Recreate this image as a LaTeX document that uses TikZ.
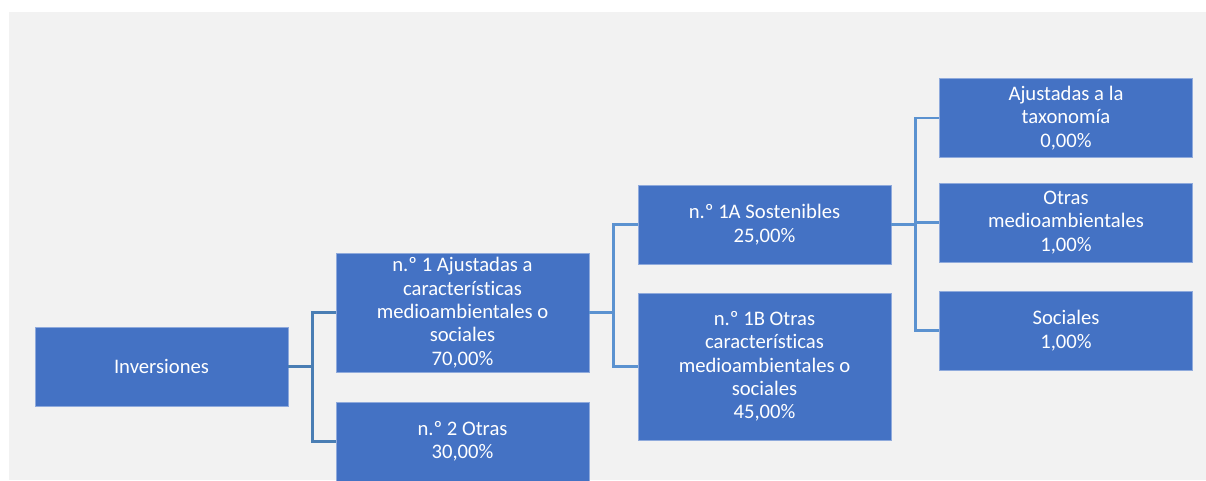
\documentclass[tikz,border=0pt]{standalone}
\usepackage{fontspec}
\setmainfont[Ligatures=NoCommon]{Carlito}
\usepackage{xcolor}
\usepackage{tikz}
\usetikzlibrary{positioning}

\definecolor{boxblue}{RGB}{68,114,196}
\definecolor{boxline}{RGB}{143,170,220}
\definecolor{linkdark}{RGB}{74,126,180}
\definecolor{linklight}{RGB}{91,146,208}
\definecolor{pagegrey}{RGB}{242,242,242}

\begin{document}
\begin{tikzpicture}[
          x=0.75pt, y=-0.75pt,
          box/.style={rectangle, draw=boxline, line width=0.6pt, fill=boxblue,
            text=white, align=center, inner sep=0pt,
            minimum width=189.75pt, font=\fontsize{15.5}{17.5}\selectfont},
          link/.style={draw=linklight, line width=2pt},
          linkroot/.style={link, draw=linkdark}
        ]
          \useasboundingbox (0,0) rectangle (1206,480);
          \clip (0,0) rectangle (1206,480);
          \fill[pagegrey] (9,12) rectangle (1206,480);

          \node[box, minimum height=59.25pt] (inv) at (161.5,366.5) {Inversiones};
          \node[box, minimum height=89.25pt] (n1) at (462.5,312.5)
            {n.º 1 Ajustadas a\\características\\medioambientales o\\sociales\\70,00\%};
          \node[box, minimum height=59.25pt] (n2) at (462.5,441.5) {n.º 2 Otras\\30,00\%};
          \node[box, minimum height=59.25pt] (n1a) at (764.5,224.5) {n.º 1A Sostenibles\\25,00\%};
          \node[box, minimum height=110.25pt] (n1b) at (764.5,366.5)
            {n.º 1B Otras\\características\\medioambientales o\\sociales\\45,00\%};
          \node[box, minimum height=59.25pt] (tax) at (1066,118) {Ajustadas a la\\taxonomía\\0,00\%};
          \node[box, minimum height=59.25pt] (oma) at (1066,222.5) {Otras\\medioambientales\\1,00\%};
          \node[box, minimum height=59.25pt] (soc) at (1066,330.5) {Sociales\\1,00\%};

          \draw[linkroot] (inv.east) -- +(24,0) |- (n1.west);
          \draw[linkroot] (inv.east) -- +(24,0) |- (n2.west);
          \draw[link] (n1.east) -- +(24,0) |- (n1a.west);
          \draw[link] (n1.east) -- +(24,0) |- (n1b.west);
          \draw[link] (n1a.east) -- +(24,0) |- (tax.west);
          \draw[link] (n1a.east) -- +(24,0) |- (oma.west);
          \draw[link] (n1a.east) -- +(24,0) |- (soc.west);
        \end{tikzpicture}
\end{document}
